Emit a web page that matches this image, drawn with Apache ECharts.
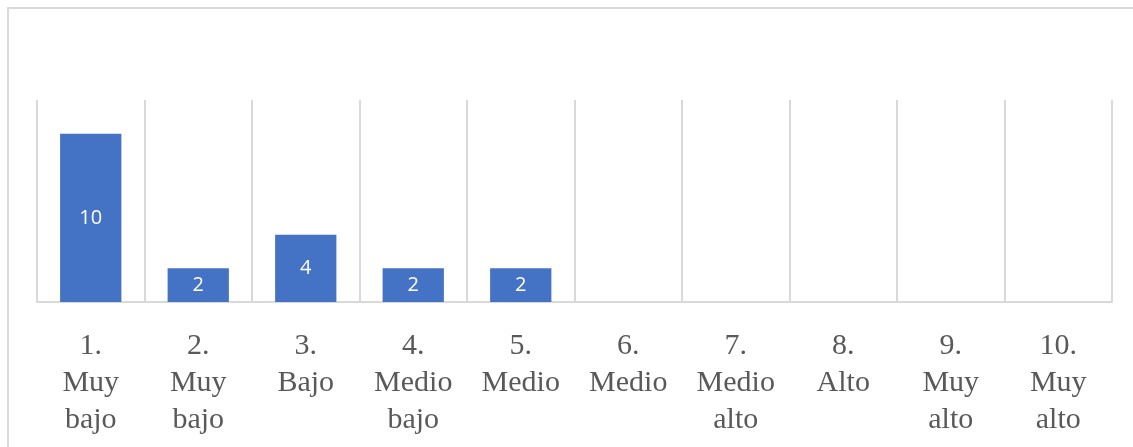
<!DOCTYPE html>
<html>
<head>
<meta charset="utf-8">
<script src="https://cdn.jsdelivr.net/npm/echarts@6/dist/echarts.min.js"></script>
<style>
  html, body { margin: 0; padding: 0; background: #fff; overflow: hidden; }
  #frame { position: absolute; left: 7px; top: 7px; width: 1200px; height: 500px;
           border: 2px solid #d9d9d9; box-sizing: border-box; }
  #chart { position: absolute; left: 0; top: 0; width: 1133px; height: 447px; }
</style>
</head>
<body>
<div id="frame"></div>
<div id="chart"></div>
<script>
// categorías (nivel) y frecuencias
const categories = [
  "1.\nMuy\nbajo", "2.\nMuy\nbajo", "3.\nBajo", "4.\nMedio\nbajo", "5.\nMedio",
  "6.\nMedio", "7.\nMedio\nalto", "8.\nAlto", "9.\nMuy\nalto", "10.\nMuy\nalto",
];
const values = [10, 2, 4, 2, 2, null, null, null, null, null];
const yMax = 12;

const chart = echarts.init(document.getElementById("chart"), null, { renderer: "canvas" });
chart.setOption({
  animation: false,
  grid: { left: 37, right: 21, top: 100, bottom: 145 },
  xAxis: {
    type: "category",
    data: categories,
    axisLine: { lineStyle: { color: "#d9d9d9", width: 2 } },
    axisTick: { show: false },
    splitLine: { show: true, lineStyle: { color: "#d9d9d9", width: 2 } },
    axisLabel: {
      interval: 0,
      margin: 26,
      color: "#595959",
      fontFamily: "Liberation Serif",
      fontSize: 30,
      lineHeight: 37,
      verticalAlign: "top",
    },
  },
  yAxis: {
    type: "value",
    min: 0,
    max: yMax,
    show: false,
    splitLine: { show: false },
  },
  series: [
    {
      type: "bar",
      data: values,
      barCategoryGap: "43%",
      itemStyle: { color: "#4472c4" },
      label: {
        show: true,
        position: "inside",
        color: "#ffffff",
        fontFamily: "Open Sans",
        fontSize: 20,
      },
    },
  ],
});
</script>
</body>
</html>
